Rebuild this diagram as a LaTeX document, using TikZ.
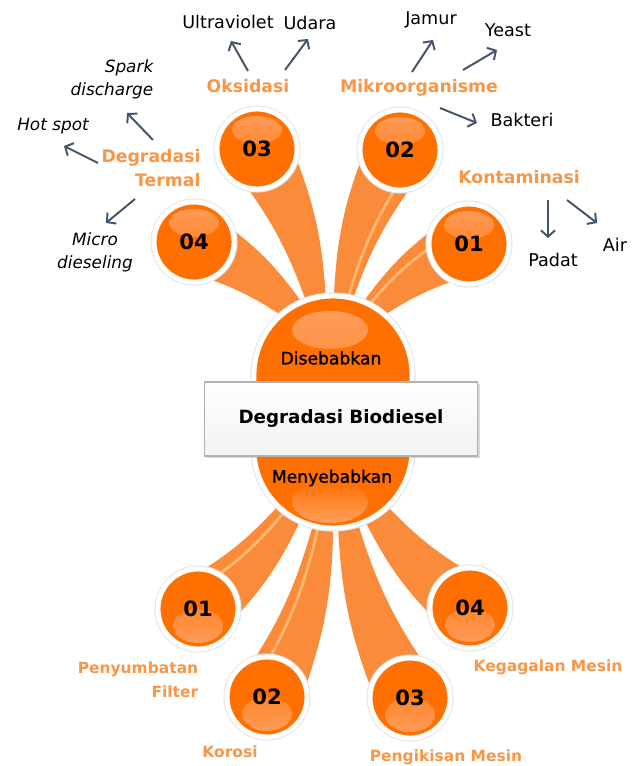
\documentclass[tikz,border=0pt]{standalone}
\usepackage{fontspec}
\setmainfont{DejaVu Sans}
\newfontfamily\pillfont[FakeBold=1.4]{DejaVu Sans}
\usepackage{tikz}
\usetikzlibrary{arrows,arrows.meta,positioning,calc,shapes,shadows,backgrounds}

\definecolor{diskorange}{HTML}{FF7000}
\definecolor{beamorange}{HTML}{F98B3B}
\definecolor{lblorange}{HTML}{F79646}
\definecolor{arrowgray}{HTML}{44546A}
\definecolor{glossorange}{HTML}{FF9E5E}
\definecolor{stripe}{HTML}{FFC27A}

\tikzset{
  disk/.style={circle, fill=diskorange, draw=white, line width=3.5pt,
    preaction={draw=black!10, line width=5pt},
    minimum size=2.0cm, inner sep=0pt, font=\bfseries\fontsize{15}{15}\selectfont},
  glossup/.style={path picture={\fill[top color=glossorange, bottom color=diskorange]
    ($(path picture bounding box.center)+(0,-19)$) ellipse (25 and 14);}},
  glossdown/.style={path picture={\fill[top color=diskorange, bottom color=glossorange]
    ($(path picture bounding box.center)+(0,17)$) ellipse (25 and 17);}},
  pill/.style={rectangle, rounded corners=1.97cm, minimum width=3.95cm, minimum height=5.8cm,
    fill=diskorange, draw=white, line width=3.5pt, preaction={draw=black!10, line width=5pt},
    path picture={
      \fill[top color=glossorange, bottom color=diskorange]
        ($(path picture bounding box.center)+(-3,-82)$) ellipse (38 and 19);
      \fill[top color=diskorange, bottom color=glossorange]
        ($(path picture bounding box.center)+(-3,90)$) ellipse (38 and 21);}},
  titlebox/.style={draw=gray!60, line width=0.8pt, top color=white, bottom color=gray!10,
    minimum width=6.825cm, minimum height=1.85cm,
    drop shadow={opacity=0.3, shadow xshift=1.5pt, shadow yshift=-1.5pt},
    font=\bfseries\fontsize{13}{13}\selectfont},
  inpill/.style={font=\pillfont\fontsize{12.2}{14}\selectfont},
  lbl/.style={text=lblorange, inner sep=1pt, font=\bfseries\fontsize{12.3}{17.5}\selectfont},
  lblsmall/.style={lbl, font=\bfseries\fontsize{11}{17}\selectfont},
  item/.style={inner sep=1pt, font=\fontsize{12.5}{16}\selectfont},
  itemit/.style={inner sep=1pt, font=\itshape\fontsize{12}{16.5}\selectfont},
  arr/.style={draw=arrowgray, line width=1.4pt, -{Straight Barb[length=4.5pt,width=10pt]}},
  beam/.style={fill=beamorange},
  streak/.style={draw=stripe, line width=2pt, opacity=0.8}
}

\begin{document}
\begin{tikzpicture}[x=0.025cm, y=-0.025cm]
\useasboundingbox (0,0) rectangle (640,766);

% Centre
\node[pill] (core) at (333,412) {};
\node[inpill] (cause) at (331,358) {Disebabkan};
\node[inpill] (effect) at (332,478) {Menyebabkan};
\node[titlebox] (bio) at (341,419) {Degradasi Biodiesel};

% Beam roots inside the pill
\coordinate (r1) at (365,316);
\coordinate (r2) at (341,309);
\coordinate (r3) at (318,309);
\coordinate (r4) at (300,316);
\coordinate (q1) at (295,505);
\coordinate (q2) at (325,514);
\coordinate (q3) at (346,514);
\coordinate (q4) at (370,505);

% Causes (top)
\node[disk, glossup] (t1) at (469,244) {01};
\node[disk, glossup] (t2) at (400,150) {02};
\node[disk, glossup] (t3) at (257,149) {03};
\node[disk, glossup] (t4) at (194,242) {04};

% Effects (bottom)
\node[disk, glossdown] (b1) at (198,609) {01};
\node[disk, glossdown] (b2) at (267,697) {02};
\node[disk, glossdown] (b3) at (410,698) {03};
\node[disk, glossdown] (b4) at (470,608) {04};

% Beams
\begin{scope}[on background layer]
\foreach \o/\w/\c/\ba/\bb in {r1/0.25cm/t1/left/right, r2/0.2cm/t2/left/right,
    r3/0.22cm/t3/right/left, r4/0.25cm/t4/right/left,
    q1/0.3cm/b1/left/right, q2/0.22cm/b2/left/right,
    q3/0.22cm/b3/right/left, q4/0.3cm/b4/right/left}
  \fill[beam] ($(\o)!\w!90:(\c.center)$) to[bend \ba=10] ($(\c.center)!0.82cm!-90:(\o)$)
    -- ($(\c.center)!0.82cm!90:(\o)$) to[bend \bb=10] ($(\o)!\w!-90:(\c.center)$) -- cycle;
% light streaks
\foreach \o/\c/\s/\ba in {r1/t1/1/left, r2/t2/-1/left, q1/b1/-1/left, q2/b2/-1/left}
  \draw[streak] ($(\o)!0.1cm!90*\s:(\c.center)$) to[bend \ba=10] ($(\c.center)!0.45cm!-90*\s:(\o)$);
\end{scope}

% Cause labels
\node[lbl] (oks) at (248,86) {Oksidasi};
\node[lbl] (mik) at (419,88) {Mikroorganisme};
\node[lbl] (kont) at (519,177) {Kontaminasi};
\node[lbl, align=right] (term) at (151,168) {Degradasi\\Termal};

\node[item] (uv) at (228,22) {Ultraviolet};
\node[item] (udara) at (310,23) {Udara};
\node[item] (jamur) at (431,20) {Jamur};
\node[item] (yeast) at (508,30) {Yeast};
\node[item] (bakteri) at (522,120) {Bakteri};
\node[item] (padat) at (553,260) {Padat};
\node[item] (air) at (615,245) {Air};
\node[itemit, align=right] (spark) at (112,79) {Spark\\discharge};
\node[itemit] (hot) at (53,126) {Hot spot};
\node[itemit, align=center] (micro) at (95,252) {Micro\\dieseling};

% Arrows
\draw[arr] ($(oks)+(0,-15)$) -- ($(uv)+(3,19)$);
\draw[arr] ($(oks)+(37,-16)$) -- ($(udara)+(-2,16)$);
\draw[arr] ($(mik)+(-7,-16)$) -- ($(jamur)+(2,20)$);
\draw[arr] ($(mik)+(44,-18)$) -- ($(yeast)+(-11,20)$);
\draw[arr] ($(mik)+(21,20)$) -- ($(bakteri)+(-45,3)$);
\draw[arr] ($(kont)+(29,23)$) -- ($(padat)+(-5,-22)$);
\draw[arr] ($(kont)+(48,23)$) -- ($(air)+(-18,-22)$);
\draw[arr] ($(term)+(2,-28)$) -- ($(spark)+(15,34)$);
\draw[arr] ($(term)+(-53,-5)$) -- ($(hot)+(11,20)$);
\draw[arr] ($(term)+(-16,31)$) -- ($(micro)+(11,-29)$);

% Effect labels
\node[lblsmall, align=right] (pen) at (138,680) {Penyumbatan\\Filter};
\node[lblsmall] (kor) at (230,752) {Korosi};
\node[lblsmall] (peng) at (446,757) {Pengikisan Mesin};
\node[lblsmall] (keg) at (548,667) {Kegagalan Mesin};
\end{tikzpicture}
\end{document}
